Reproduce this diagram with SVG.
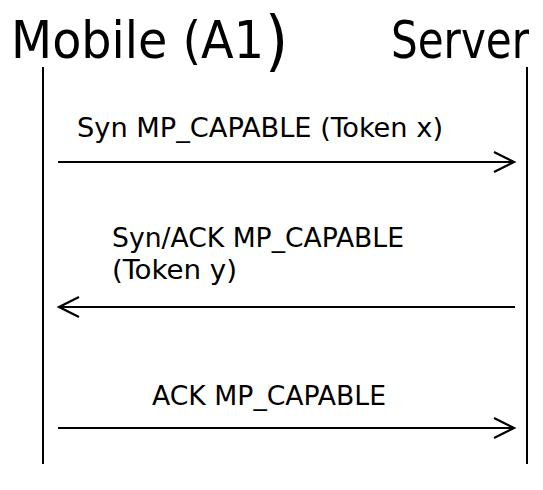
<svg xmlns="http://www.w3.org/2000/svg" width="543" height="490" viewBox="0 0 543 490">
<style>
.title{font-family:"DejaVu Sans Condensed","DejaVu Sans",sans-serif;font-size:52px;fill:#000}
.lbl{font-family:"DejaVu Sans Condensed","DejaVu Sans",sans-serif;font-size:26px;fill:#000}
.life{stroke:#000;stroke-width:2;fill:none}
.msg{stroke:#000;stroke-width:2;fill:none}
</style>
<defs>
<marker id="open" markerUnits="userSpaceOnUse" markerWidth="24" markerHeight="24" viewBox="0 0 24 24" refX="21" refY="12" orient="auto-start-reverse">
<path d="M1,2 L21,12 L1,22" fill="none" stroke="#000" stroke-width="2.2"/>
</marker>
</defs>
<g id="mobile">
<text class="title" x="11" y="58" textLength="253" lengthAdjust="spacingAndGlyphs">Mobile (A1</text>
<text class="title" x="265" y="63" style="font-size:66px">)</text>
<line class="life" x1="43" y1="67" x2="43" y2="464"/>
</g>
<g id="server">
<text class="title" x="391" y="58" textLength="138" lengthAdjust="spacingAndGlyphs">Server</text>
<line class="life" x1="527" y1="67" x2="527" y2="464"/>
</g>
<g id="connectors">
<line class="msg" x1="58" y1="162" x2="514" y2="162" marker-end="url(#open)"/>
<text class="lbl" x="77" y="137" textLength="366" lengthAdjust="spacingAndGlyphs">Syn MP_CAPABLE (Token x)</text>
<line class="msg" x1="59" y1="307" x2="515" y2="307" marker-start="url(#open)"/>
<text class="lbl" x="112" y="247" textLength="292" lengthAdjust="spacingAndGlyphs">Syn/ACK MP_CAPABLE</text>
<text class="lbl" x="112" y="279" textLength="125" lengthAdjust="spacingAndGlyphs">(Token y)</text>
<line class="msg" x1="58" y1="428" x2="514" y2="428" marker-end="url(#open)"/>
<text class="lbl" x="152" y="405" textLength="234" lengthAdjust="spacingAndGlyphs">ACK MP_CAPABLE</text>
</g>
</svg>
